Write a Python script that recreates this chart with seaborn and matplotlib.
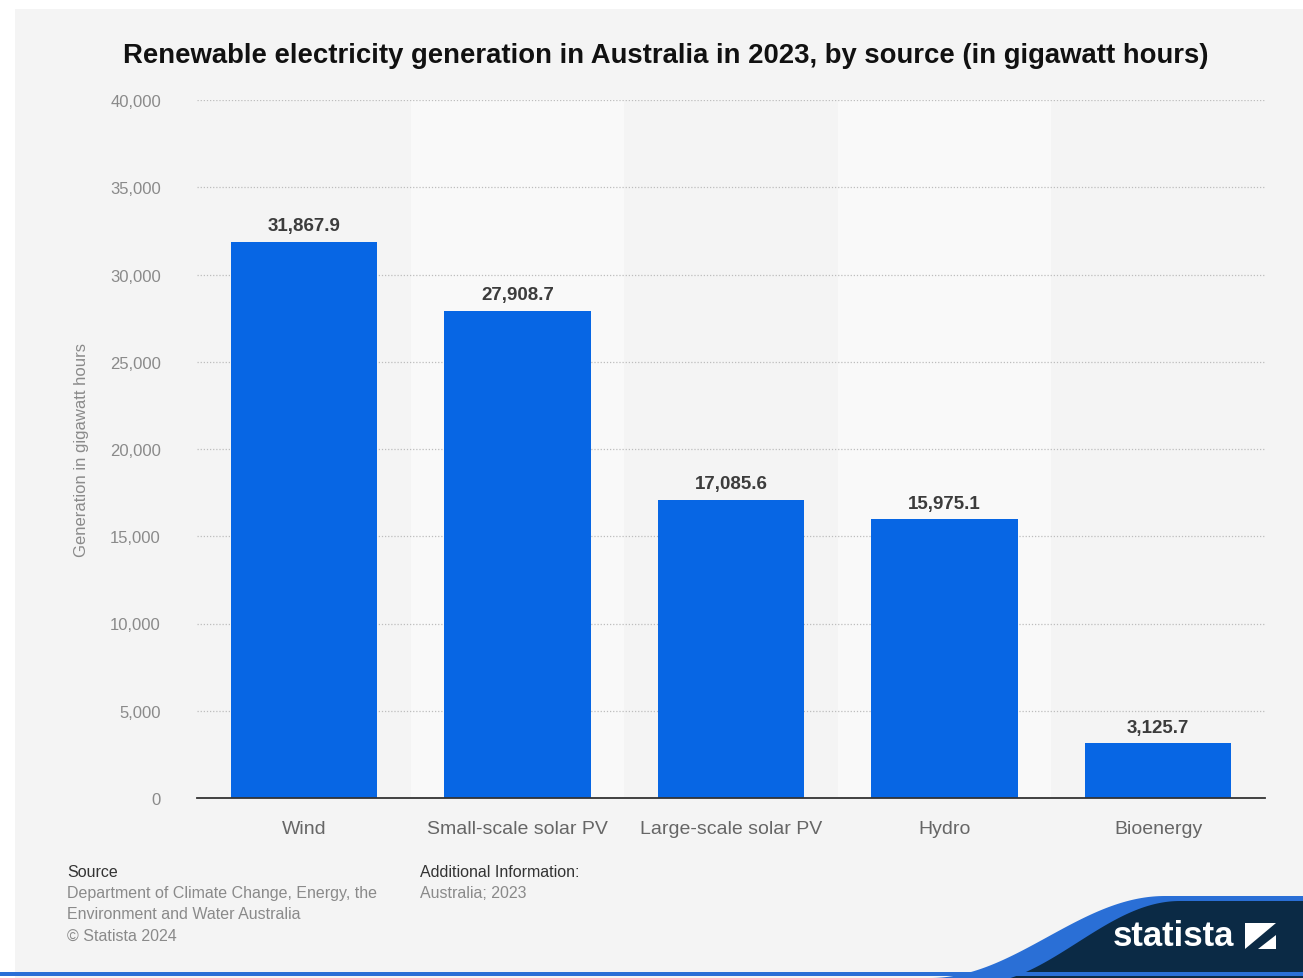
import numpy as np
import pandas as pd
import matplotlib
matplotlib.use("Agg")
import matplotlib.pyplot as plt
import seaborn as sns
from matplotlib.patches import Rectangle, Polygon
from matplotlib.ticker import FuncFormatter, MultipleLocator

categories = ["Wind", "Small-scale solar PV", "Large-scale solar PV", "Hydro", "Bioenergy"]
values = [31867.9, 27908.7, 17085.6, 15975.1, 3125.7]
title = "Renewable electricity generation in Australia in 2023, by source (in gigawatt hours)"
ylabel = "Generation in gigawatt hours"

df = pd.DataFrame({"source": categories, "value": values})

sns.set_theme(style="white")
plt.rcParams['font.family'] = ['Liberation Sans', 'DejaVu Sans']

W, H = 1303, 979
fig = plt.figure(figsize=(W / 100, H / 100), dpi=100)
fig.patch.set_facecolor("white")

# panel background
fig.add_artist(Rectangle((15 / W, 0), 1 - 15 / W, 1 - 10 / H, transform=fig.transFigure,
                         facecolor="#f4f4f4", edgecolor="none", zorder=-10))

ax = fig.add_axes([197 / W, 1 - 799 / H, (1265 - 197) / W, (799 - 101) / H])
ax.set_facecolor("#f4f4f4")

# alternating column bands
for i in range(len(categories)):
    if i % 2 == 1:
        ax.axvspan(i - 0.5, i + 0.5, color="#f9f9f9", zorder=0, lw=0)

sns.barplot(data=df, x="source", y="value", color="#0766e4", width=0.685,
            saturation=1, ax=ax, zorder=3, edgecolor="none")

ax.set_xlim(-0.5, len(categories) - 0.5)
ax.set_ylim(0, 40000)
ax.yaxis.set_major_locator(MultipleLocator(5000))
ax.yaxis.set_major_formatter(FuncFormatter(lambda v, p: f"{int(v):,}"))
ax.grid(axis="y", color="#bdbdbd", linestyle=(0, (1, 1.5)), linewidth=0.9, zorder=1)
ax.set_axisbelow(True)

for s in ["top", "right", "left"]:
    ax.spines[s].set_visible(False)
ax.spines["bottom"].set_color("#333333")
ax.spines["bottom"].set_linewidth(1.3)
ax.spines["bottom"].set_zorder(5)

ax.tick_params(axis="y", length=0, pad=26, labelsize=12, labelcolor="#8a8a8a")
ax.tick_params(axis="x", length=0, pad=16, labelsize=14, labelcolor="#666666")
ax.set_xlabel("")
ax.set_ylabel(ylabel, fontsize=12, color="#8a8a8a", labelpad=15)

for i, v in enumerate(values):
    ax.annotate(f"{v:,.1f}", (i, v), xytext=(0, 5.5), textcoords="offset points",
                ha="center", va="bottom", fontsize=13.5, fontweight="bold", color="#3c3c3c")

fig.text(666 / W, 1 - 56 / H, title, ha="center", va="center", fontsize=19.8,
         fontweight="bold", color="#111111")

# footer
fs = 11.5
fig.text(67 / W, 1 - 873 / H, "Source", ha="left", va="center", fontsize=fs, color="#333333")
fig.text(67 / W, 1 - 894 / H, "Department of Climate Change, Energy, the", ha="left", va="center",
         fontsize=fs, color="#8a8a8a")
fig.text(67 / W, 1 - 915 / H, "Environment and Water Australia", ha="left", va="center",
         fontsize=fs, color="#8a8a8a")
fig.text(67 / W, 1 - 936 / H, "© Statista 2024", ha="left", va="center", fontsize=fs, color="#8a8a8a")
fig.text(420 / W, 1 - 873 / H, "Additional Information:", ha="left", va="center", fontsize=fs,
         color="#333333")
fig.text(420 / W, 1 - 894 / H, "Australia; 2023", ha="left", va="center", fontsize=fs, color="#8a8a8a")

# statista logo shape
def curve(x0, x1, y0, y1, n=80):
    t = np.linspace(0, 1, n)
    xs = x0 + t * (x1 - x0)
    ys = y0 - (y0 - y1) * (0.5 - 0.5 * np.cos(np.pi * t))
    return np.concatenate([xs, [W]]), np.concatenate([ys, [y1]])

bx, by = curve(930, 1165, 979, 897)
blue_pts = [(x / W, 1 - y / H) for x, y in zip(bx, by)] + [(1, 0)]
fig.add_artist(Polygon(blue_pts, closed=True, transform=fig.transFigure,
                       facecolor="#2a6fd6", edgecolor="none", zorder=1))
nx, ny = curve(975, 1180, 985, 902)
navy_pts = [(x / W, 1 - y / H) for x, y in zip(nx, ny)] + [(1, 0), (975 / W, 0)]
fig.add_artist(Polygon(navy_pts, closed=True, transform=fig.transFigure,
                       facecolor="#0b2a45", edgecolor="none", zorder=2))
fig.text(1173 / W, 1 - 937 / H, "statista", ha="center", va="center", fontsize=25,
         fontweight="bold", color="white", zorder=5)
fig.add_artist(Rectangle((1245 / W, 1 - 950 / H), 31 / W, 26 / H, transform=fig.transFigure,
                         facecolor="white", edgecolor="none", zorder=5))
fig.add_artist(Polygon([(1245 / W, 1 - 950 / H), (1276 / W, 1 - 924 / H), (1276 / W, 1 - 936 / H),
                        (1258 / W, 1 - 950 / H)], closed=True, transform=fig.transFigure,
                       facecolor="#0b2a45", edgecolor="none", zorder=6))

# bottom blue line
fig.add_artist(Rectangle((0, 2 / H), 1, 4 / H, transform=fig.transFigure,
                         facecolor="#2a6fd6", edgecolor="none", zorder=7))

fig.savefig("out.png", dpi=100, facecolor=fig.get_facecolor())
